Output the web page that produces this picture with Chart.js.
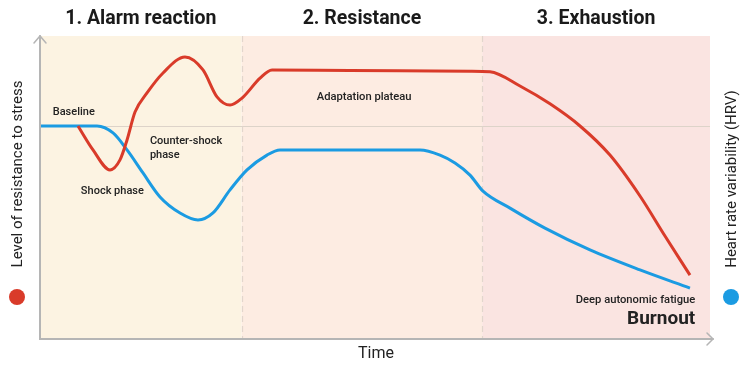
<!DOCTYPE html>
<html>
<head>
<meta charset="utf-8">
<script src="https://cdn.jsdelivr.net/npm/chart.js@4"></script>
<style>
  html, body { margin: 0; padding: 0; background: #fff; }
  #wrap { width: 750px; height: 370px; position: relative; }
</style>
</head>
<body>
<div id="wrap"><canvas id="chart" width="750" height="370"></canvas></div>
<script>
// phases (time in %, 0..100)
const phaseNames = ['1. Alarm reaction', '2. Resistance', '3. Exhaustion'];
const phaseEdges = [0, 30.1, 66, 100];
const phaseColors = ['#fcf3e2', '#fdece2', '#fae4e1'];
const baselineLevel = 70.3;

// level of resistance to stress (red)
const resistanceT = [5.67, 7.91, 10.45, 11.94, 12.99, 14.18, 15.97, 18.36, 21.64, 24.33, 26.42, 28.36, 30.15, 32.84, 34.63, 46.27, 64.18, 67.16, 71.64, 76.12, 80.6, 85.07, 89.55, 93.28, 97.01];
const resistanceV = [70.3, 62.4, 55.8, 59.1, 65.7, 74.9, 81.2, 87.8, 93.1, 88.8, 79.9, 77.2, 79.5, 86.1, 88.8, 88.6, 88.4, 88.2, 83.5, 77.6, 70.3, 60.7, 47.2, 34.0, 21.1];

// heart rate variability (blue)
const hrvT = [0, 8.51, 10.9, 12.99, 15.37, 17.91, 20.9, 23.58, 25.82, 28.36, 30.9, 33.88, 35.82, 56.72, 59.7, 61.94, 64.18, 66.12, 70.15, 75.37, 82.09, 89.55, 97.01];
const hrvV = [70.3, 70.3, 68.0, 62.4, 54.8, 46.9, 41.6, 39.3, 41.6, 49.2, 55.8, 60.7, 62.4, 62.4, 60.7, 58.1, 54.1, 48.8, 43.2, 36.6, 29.4, 22.8, 16.8];

// text notes: [text, time, level, align, font]
const notes = [
  ['Baseline', 1.9, 74.9, 'left', '500 11px Roboto'],
  ['Counter-shock', 16.4, 65.3, 'left', '500 11px Roboto'],
  ['phase', 16.4, 60.7, 'left', '500 11px Roboto'],
  ['Shock phase', 6.1, 48.8, 'left', '500 11px Roboto'],
  ['Adaptation plateau', 41.3, 79.9, 'left', '500 11.2px Roboto'],
  ['Deep autonomic fatigue', 97.8, 12.9, 'right', '500 11.2px Roboto'],
  ['Burnout', 97.8, 6.6, 'right', 'bold 19px Roboto']
];

const red = '#d93b2a';
const blue = '#1b9be2';
const axisGrey = '#b5b5b5';

function toPoints(ts, vs) {
  return ts.map((t, i) => ({ x: t, y: vs[i] }));
}

const decor = {
  id: 'decor',
  beforeDatasetsDraw(chart) {
    const ctx = chart.ctx;
    const x = chart.scales.x, y = chart.scales.y;
    const top = chart.chartArea.top, bottom = chart.chartArea.bottom;
    ctx.save();
    // phase backgrounds
    for (let i = 0; i < phaseNames.length; i++) {
      const x0 = x.getPixelForValue(phaseEdges[i]);
      const x1 = x.getPixelForValue(phaseEdges[i + 1]);
      ctx.fillStyle = phaseColors[i];
      ctx.fillRect(x0, top, x1 - x0, bottom - top);
    }
    // dashed phase boundaries
    ctx.strokeStyle = '#e2d6cc';
    ctx.lineWidth = 1.2;
    ctx.setLineDash([6, 4]);
    for (let i = 1; i < phaseEdges.length - 1; i++) {
      const px = Math.round(x.getPixelForValue(phaseEdges[i])) + 0.5;
      ctx.beginPath();
      ctx.moveTo(px, top);
      ctx.lineTo(px, bottom);
      ctx.stroke();
    }
    ctx.setLineDash([]);
    // baseline
    const by = Math.round(y.getPixelForValue(baselineLevel)) + 0.5;
    ctx.strokeStyle = '#ddd3c9';
    ctx.lineWidth = 1;
    ctx.beginPath();
    ctx.moveTo(x.left, by);
    ctx.lineTo(x.right, by);
    ctx.stroke();
    // notes
    ctx.fillStyle = '#222';
    ctx.textBaseline = 'middle';
    notes.forEach(n => {
      ctx.font = n[4];
      ctx.textAlign = n[3];
      ctx.fillText(n[0], x.getPixelForValue(n[1]), y.getPixelForValue(n[2]));
    });
    ctx.restore();
  },
  afterDraw(chart) {
    const ctx = chart.ctx;
    const x = chart.scales.x;
    const { left, right, top, bottom } = chart.chartArea;
    ctx.save();
    // axes with arrows
    ctx.strokeStyle = axisGrey;
    ctx.lineWidth = 2;
    ctx.lineCap = 'round';
    ctx.beginPath();
    ctx.moveTo(left, top);
    ctx.lineTo(left, bottom);
    ctx.lineTo(right + 3, bottom);
    ctx.stroke();
    ctx.lineWidth = 1.5;
    ctx.beginPath();
    ctx.moveTo(left - 6, top + 7);
    ctx.lineTo(left, top);
    ctx.lineTo(left + 6, top + 7);
    ctx.moveTo(right - 3, bottom - 6);
    ctx.lineTo(right + 3, bottom);
    ctx.lineTo(right - 3, bottom + 6);
    ctx.stroke();
    // phase titles
    ctx.fillStyle = '#1a1a1a';
    ctx.font = 'bold 19.5px Roboto';
    ctx.textAlign = 'center';
    ctx.textBaseline = 'middle';
    for (let i = 0; i < phaseNames.length; i++) {
      const cx = (x.getPixelForValue(phaseEdges[i]) + x.getPixelForValue(phaseEdges[i + 1])) / 2;
      ctx.fillText(phaseNames[i], cx, 19);
    }
    // x title
    ctx.font = '16px Roboto';
    ctx.fillStyle = '#222';
    ctx.fillText('Time', (left + right) / 2 + 1, 354);
    // y titles, rotated
    ctx.font = '15px Roboto';
    ctx.save();
    ctx.translate(18, 174);
    ctx.rotate(-Math.PI / 2);
    ctx.fillText('Level of resistance to stress', 0, 0);
    ctx.restore();
    ctx.save();
    ctx.translate(732, 179);
    ctx.rotate(-Math.PI / 2);
    ctx.fillText('Heart rate variability (HRV)', 0, 0);
    ctx.restore();
    // colour dots
    ctx.fillStyle = red;
    ctx.beginPath();
    ctx.arc(17, 297, 8, 0, Math.PI * 2);
    ctx.fill();
    ctx.fillStyle = blue;
    ctx.beginPath();
    ctx.arc(731, 297, 8, 0, Math.PI * 2);
    ctx.fill();
    ctx.restore();
  }
};

new Chart(document.getElementById('chart'), {
  type: 'line',
  data: {
    datasets: [
      {
        label: 'Heart rate variability (HRV)',
        data: toPoints(hrvT, hrvV),
        borderColor: blue,
        borderWidth: 3,
        pointRadius: 0,
        cubicInterpolationMode: 'monotone',
        fill: false,
        order: 2
      },
      {
        label: 'Level of resistance to stress',
        data: toPoints(resistanceT, resistanceV),
        borderColor: red,
        borderWidth: 3,
        pointRadius: 0,
        cubicInterpolationMode: 'monotone',
        fill: false,
        order: 1
      }
    ]
  },
  options: {
    responsive: false,
    animation: false,
    layout: { padding: { left: 40, right: 40, top: 36, bottom: 31 } },
    plugins: { legend: { display: false }, tooltip: { enabled: false } },
    scales: {
      x: { type: 'linear', min: 0, max: 100, display: false },
      y: { type: 'linear', min: 0, max: 100, display: false }
    }
  },
  plugins: [decor]
});
</script>
</body>
</html>
